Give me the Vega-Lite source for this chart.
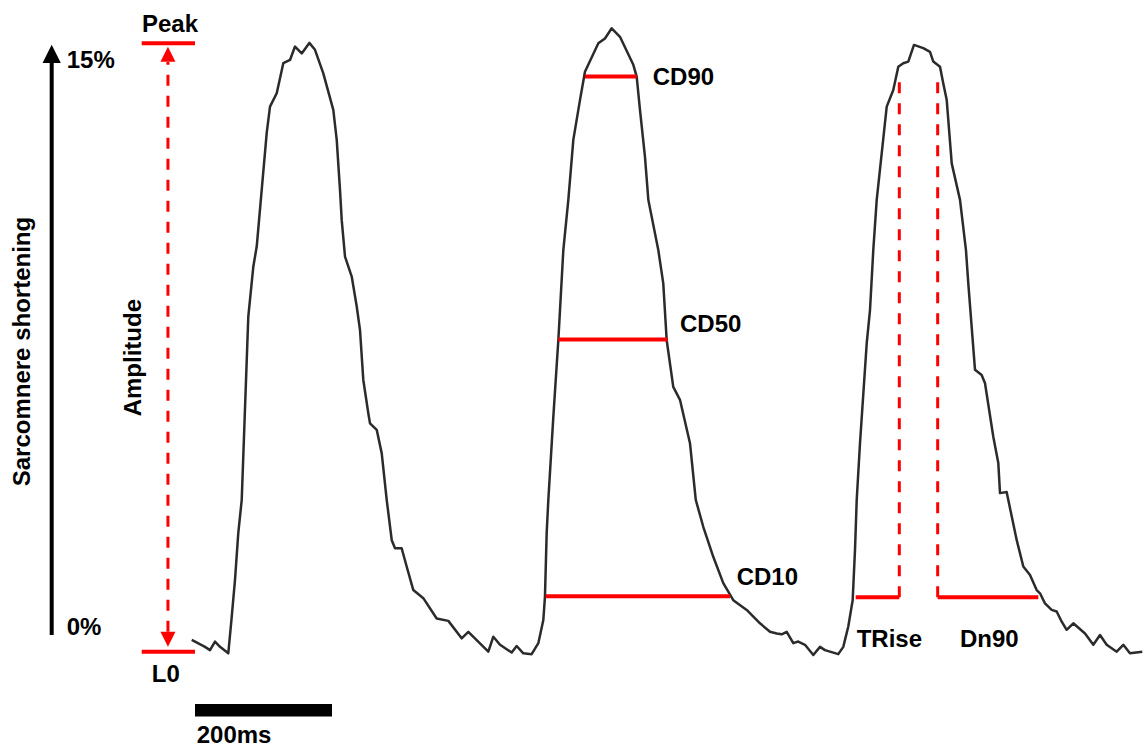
{
  "$schema": "https://vega.github.io/schema/vega-lite/v6.json",
  "width": 1147,
  "height": 749,
  "autosize": "none",
  "padding": 0,
  "background": "white",
  "config": {"view": {"stroke": null}},
  "datasets": {
    "trace": [
      {"t": -4.8, "s": 0.29}, {"t": 14.6, "s": 0.12}, {"t": 21.9, "s": 0.04}, {"t": 29.2, "s": 0.25}, {"t": 36.5, "s": 0.12},
      {"t": 48.6, "s": -0.04}, {"t": 53.6, "s": 0.86}, {"t": 58.4, "s": 1.77}, {"t": 63.2, "s": 2.93}, {"t": 68.2, "s": 3.74},
      {"t": 77.8, "s": 8.26}, {"t": 85.1, "s": 9.49}, {"t": 90.1, "s": 9.99}, {"t": 104.7, "s": 12.79}, {"t": 109.5, "s": 13.44},
      {"t": 119.3, "s": 13.77}, {"t": 128.9, "s": 14.51}, {"t": 138.7, "s": 14.59}, {"t": 146.0, "s": 14.92}, {"t": 155.8, "s": 14.75},
      {"t": 166.9, "s": 15.01}, {"t": 175.2, "s": 14.84}, {"t": 187.3, "s": 14.26}, {"t": 201.9, "s": 13.36}, {"t": 206.9, "s": 12.62},
      {"t": 211.7, "s": 11.38}, {"t": 214.2, "s": 10.64}, {"t": 219.0, "s": 9.74}, {"t": 228.8, "s": 9.25}, {"t": 236.1, "s": 8.51},
      {"t": 240.9, "s": 7.93}, {"t": 245.7, "s": 6.70}, {"t": 253.0, "s": 5.88}, {"t": 255.5, "s": 5.63}, {"t": 265.3, "s": 5.47},
      {"t": 272.6, "s": 4.89}, {"t": 279.9, "s": 3.74}, {"t": 287.2, "s": 2.75}, {"t": 292.0, "s": 2.55}, {"t": 301.7, "s": 2.55},
      {"t": 309.0, "s": 2.10}, {"t": 318.7, "s": 1.52}, {"t": 333.3, "s": 1.32}, {"t": 352.8, "s": 0.82}, {"t": 369.8, "s": 0.76},
      {"t": 389.3, "s": 0.33}, {"t": 399.0, "s": 0.49}, {"t": 428.2, "s": 0.00}, {"t": 435.5, "s": 0.37}, {"t": 445.3, "s": 0.17},
      {"t": 462.3, "s": -0.02}, {"t": 469.6, "s": 0.14}, {"t": 479.3, "s": -0.04}, {"t": 491.5, "s": -0.06}, {"t": 501.2, "s": 0.21},
      {"t": 508.5, "s": 0.78}, {"t": 510.9, "s": 1.36}, {"t": 513.4, "s": 2.93}, {"t": 515.8, "s": 3.74}, {"t": 523.1, "s": 5.79},
      {"t": 530.4, "s": 7.68}, {"t": 537.7, "s": 9.90}, {"t": 545.0, "s": 11.14}, {"t": 552.3, "s": 12.62}, {"t": 562.0, "s": 13.60},
      {"t": 569.3, "s": 14.30}, {"t": 588.8, "s": 15.00}, {"t": 598.5, "s": 15.12}, {"t": 608.3, "s": 15.37}, {"t": 620.4, "s": 15.16},
      {"t": 639.9, "s": 14.47}, {"t": 644.8, "s": 14.18}, {"t": 649.6, "s": 13.36}, {"t": 656.9, "s": 12.20}, {"t": 661.8, "s": 11.14},
      {"t": 676.4, "s": 9.90}, {"t": 683.6, "s": 9.08}, {"t": 688.6, "s": 7.68}, {"t": 698.2, "s": 6.53}, {"t": 708.0, "s": 6.21},
      {"t": 722.6, "s": 5.14}, {"t": 731.1, "s": 3.74}, {"t": 742.0, "s": 3.08}, {"t": 756.6, "s": 2.34}, {"t": 771.2, "s": 1.69},
      {"t": 785.8, "s": 1.27}, {"t": 805.4, "s": 1.03}, {"t": 824.8, "s": 0.70}, {"t": 839.4, "s": 0.49}, {"t": 849.2, "s": 0.45},
      {"t": 856.5, "s": 0.43}, {"t": 863.8, "s": 0.49}, {"t": 873.4, "s": 0.21}, {"t": 880.7, "s": 0.25}, {"t": 890.5, "s": 0.17},
      {"t": 902.6, "s": -0.08}, {"t": 912.4, "s": 0.12}, {"t": 919.7, "s": 0.04}, {"t": 939.1, "s": -0.06}, {"t": 946.4, "s": 0.12},
      {"t": 953.7, "s": 0.62}, {"t": 960.1, "s": 1.27}, {"t": 963.5, "s": 2.51}, {"t": 966.0, "s": 3.74}, {"t": 970.8, "s": 5.14},
      {"t": 980.6, "s": 7.60}, {"t": 985.4, "s": 8.42}, {"t": 990.2, "s": 9.90}, {"t": 995.2, "s": 11.14}, {"t": 1009.8, "s": 13.44},
      {"t": 1019.4, "s": 13.85}, {"t": 1026.7, "s": 14.42}, {"t": 1034.0, "s": 14.51}, {"t": 1041.3, "s": 14.55}, {"t": 1049.6, "s": 14.96},
      {"t": 1063.2, "s": 14.88}, {"t": 1073.0, "s": 14.79}, {"t": 1077.8, "s": 14.55}, {"t": 1087.6, "s": 14.42}, {"t": 1092.4, "s": 14.01},
      {"t": 1097.4, "s": 13.60}, {"t": 1104.7, "s": 12.04}, {"t": 1116.8, "s": 11.14}, {"t": 1125.5, "s": 9.90}, {"t": 1128.9, "s": 9.08},
      {"t": 1138.7, "s": 6.95}, {"t": 1148.4, "s": 6.82}, {"t": 1153.3, "s": 6.62}, {"t": 1165.4, "s": 5.30}, {"t": 1172.7, "s": 4.65},
      {"t": 1175.2, "s": 3.91}, {"t": 1184.9, "s": 3.94}, {"t": 1187.3, "s": 3.74}, {"t": 1199.6, "s": 2.75}, {"t": 1209.2, "s": 2.10},
      {"t": 1219.0, "s": 1.89}, {"t": 1228.7, "s": 1.52}, {"t": 1233.6, "s": 1.44}, {"t": 1240.9, "s": 1.19}, {"t": 1250.6, "s": 1.03},
      {"t": 1257.9, "s": 0.99}, {"t": 1265.3, "s": 0.74}, {"t": 1272.5, "s": 0.54}, {"t": 1282.2, "s": 0.70}, {"t": 1299.3, "s": 0.45},
      {"t": 1311.4, "s": 0.17}, {"t": 1321.2, "s": 0.41}, {"t": 1330.9, "s": 0.17}, {"t": 1345.5, "s": 0.00}, {"t": 1355.2, "s": 0.17},
      {"t": 1364.9, "s": -0.04}, {"t": 1382.9, "s": 0.00}
    ],
    "hlines": [
      {"name": "Peak", "t": -77.8, "t2": 0, "s": 15.0},
      {"name": "L0", "t": -77.8, "t2": 0, "s": 0.0},
      {"name": "CD90", "t": 569.3, "t2": 644.8, "s": 14.18},
      {"name": "CD50", "t": 530.4, "t2": 689.8, "s": 7.70},
      {"name": "CD10", "t": 512.0, "t2": 781.0, "s": 1.37},
      {"name": "TRise", "t": 964.5, "t2": 1028.2, "s": 1.34},
      {"name": "Dn90", "t": 1084.2, "t2": 1231.1, "s": 1.34}
    ],
    "vdash": [
      {"name": "Amplitude", "t": -39.5, "s": 0.49, "s2": 14.54},
      {"name": "TRise", "t": 1028.2, "s": 1.34, "s2": 14.12},
      {"name": "Dn90", "t": 1084.2, "s": 1.34, "s2": 14.12}
    ],
    "axisline": [{"t": -209.2, "s": 0.41, "s2": 14.54}],
    "blackhead": [{"t": -209.2, "s": 14.74}],
    "redup": [{"t": -39.5, "s": 14.73}],
    "reddown": [{"t": -39.5, "s": 0.31}],
    "scalebar": [{"t": 0, "t2": 200, "s": -1.29, "s2": -1.60}],
    "labelsCenter": [
      {"label": "Peak", "t": -36.5, "s": 15.29},
      {"label": "L0", "t": -42.6, "s": -0.74}
    ],
    "labelsLeft": [
      {"label": "15%", "t": -187.3, "s": 14.38},
      {"label": "0%", "t": -187.3, "s": 0.41},
      {"label": "200ms", "t": 2.5, "s": -2.25},
      {"label": "CD90", "t": 668.2, "s": 13.97},
      {"label": "CD50", "t": 708.0, "s": 7.89},
      {"label": "CD10", "t": 790.8, "s": 1.64},
      {"label": "TRise", "t": 966.0, "s": 0.12},
      {"label": "Dn90", "t": 1116.8, "s": 0.12}
    ],
    "labelsRot": [
      {"label": "Sarcomnere shortening", "t": -240.9, "s": 7.40},
      {"label": "Amplitude", "t": -79.3, "s": 7.25}
    ]
  },
  "layer": [
    {
      "data": {"name": "trace"},
      "mark": {"type": "line", "color": "#2b2b2b", "strokeWidth": 2.5, "strokeJoin": "round", "interpolate": "linear"},
      "encoding": {
        "x": {"field": "t", "type": "quantitative", "scale": {"domain": [-284.67, 1389.78], "nice": false, "zero": false}, "axis": null},
        "y": {"field": "s", "type": "quantitative", "scale": {"domain": [-2.399, 16.068], "nice": false, "zero": false}, "axis": null},
        "order": {"field": "t", "type": "quantitative"}
      }
    },
    {
      "data": {"name": "hlines"},
      "mark": {"type": "rule", "color": "#ff0000", "strokeWidth": 4},
      "encoding": {
        "x": {"field": "t", "type": "quantitative", "scale": {"domain": [-284.67, 1389.78], "nice": false, "zero": false}, "axis": null},
        "x2": {"field": "t2"},
        "y": {"field": "s", "type": "quantitative", "scale": {"domain": [-2.399, 16.068], "nice": false, "zero": false}, "axis": null}
      }
    },
    {
      "data": {"name": "vdash"},
      "mark": {"type": "rule", "color": "#ff0000", "strokeWidth": 3, "strokeDash": [11, 10]},
      "encoding": {
        "x": {"field": "t", "type": "quantitative", "scale": {"domain": [-284.67, 1389.78], "nice": false, "zero": false}, "axis": null},
        "y": {"field": "s", "type": "quantitative", "scale": {"domain": [-2.399, 16.068], "nice": false, "zero": false}, "axis": null},
        "y2": {"field": "s2"}
      }
    },
    {
      "data": {"name": "axisline"},
      "mark": {"type": "rule", "color": "#000000", "strokeWidth": 4},
      "encoding": {
        "x": {"field": "t", "type": "quantitative", "scale": {"domain": [-284.67, 1389.78], "nice": false, "zero": false}, "axis": null},
        "y": {"field": "s", "type": "quantitative", "scale": {"domain": [-2.399, 16.068], "nice": false, "zero": false}, "axis": null},
        "y2": {"field": "s2"}
      }
    },
    {
      "data": {"name": "blackhead"},
      "mark": {"type": "point", "shape": "M0,-1L1,1L-1,1Z", "size": 335, "filled": true, "color": "#000000", "opacity": 1},
      "encoding": {
        "x": {"field": "t", "type": "quantitative", "scale": {"domain": [-284.67, 1389.78], "nice": false, "zero": false}, "axis": null},
        "y": {"field": "s", "type": "quantitative", "scale": {"domain": [-2.399, 16.068], "nice": false, "zero": false}, "axis": null}
      }
    },
    {
      "data": {"name": "redup"},
      "mark": {"type": "point", "shape": "M0,-1L1,1L-1,1Z", "size": 225, "filled": true, "color": "#ff0000", "opacity": 1},
      "encoding": {
        "x": {"field": "t", "type": "quantitative", "scale": {"domain": [-284.67, 1389.78], "nice": false, "zero": false}, "axis": null},
        "y": {"field": "s", "type": "quantitative", "scale": {"domain": [-2.399, 16.068], "nice": false, "zero": false}, "axis": null}
      }
    },
    {
      "data": {"name": "reddown"},
      "mark": {"type": "point", "shape": "M0,1L1,-1L-1,-1Z", "size": 225, "filled": true, "color": "#ff0000", "opacity": 1},
      "encoding": {
        "x": {"field": "t", "type": "quantitative", "scale": {"domain": [-284.67, 1389.78], "nice": false, "zero": false}, "axis": null},
        "y": {"field": "s", "type": "quantitative", "scale": {"domain": [-2.399, 16.068], "nice": false, "zero": false}, "axis": null}
      }
    },
    {
      "data": {"name": "scalebar"},
      "mark": {"type": "rect", "color": "#000000"},
      "encoding": {
        "x": {"field": "t", "type": "quantitative", "scale": {"domain": [-284.67, 1389.78], "nice": false, "zero": false}, "axis": null},
        "x2": {"field": "t2"},
        "y": {"field": "s", "type": "quantitative", "scale": {"domain": [-2.399, 16.068], "nice": false, "zero": false}, "axis": null},
        "y2": {"field": "s2"}
      }
    },
    {
      "data": {"name": "labelsCenter"},
      "mark": {"type": "text", "font": "Liberation Sans", "fontWeight": "bold", "fontSize": 24, "align": "center", "baseline": "alphabetic", "color": "#000000"},
      "encoding": {
        "x": {"field": "t", "type": "quantitative", "scale": {"domain": [-284.67, 1389.78], "nice": false, "zero": false}, "axis": null},
        "y": {"field": "s", "type": "quantitative", "scale": {"domain": [-2.399, 16.068], "nice": false, "zero": false}, "axis": null},
        "text": {"field": "label"}
      }
    },
    {
      "data": {"name": "labelsLeft"},
      "mark": {"type": "text", "font": "Liberation Sans", "fontWeight": "bold", "fontSize": 24, "align": "left", "baseline": "alphabetic", "color": "#000000"},
      "encoding": {
        "x": {"field": "t", "type": "quantitative", "scale": {"domain": [-284.67, 1389.78], "nice": false, "zero": false}, "axis": null},
        "y": {"field": "s", "type": "quantitative", "scale": {"domain": [-2.399, 16.068], "nice": false, "zero": false}, "axis": null},
        "text": {"field": "label"}
      }
    },
    {
      "data": {"name": "labelsRot"},
      "mark": {"type": "text", "font": "Liberation Sans", "fontWeight": "bold", "fontSize": 24, "align": "center", "baseline": "alphabetic", "angle": 270, "color": "#000000"},
      "encoding": {
        "x": {"field": "t", "type": "quantitative", "scale": {"domain": [-284.67, 1389.78], "nice": false, "zero": false}, "axis": null},
        "y": {"field": "s", "type": "quantitative", "scale": {"domain": [-2.399, 16.068], "nice": false, "zero": false}, "axis": null},
        "text": {"field": "label"}
      }
    }
  ]
}
